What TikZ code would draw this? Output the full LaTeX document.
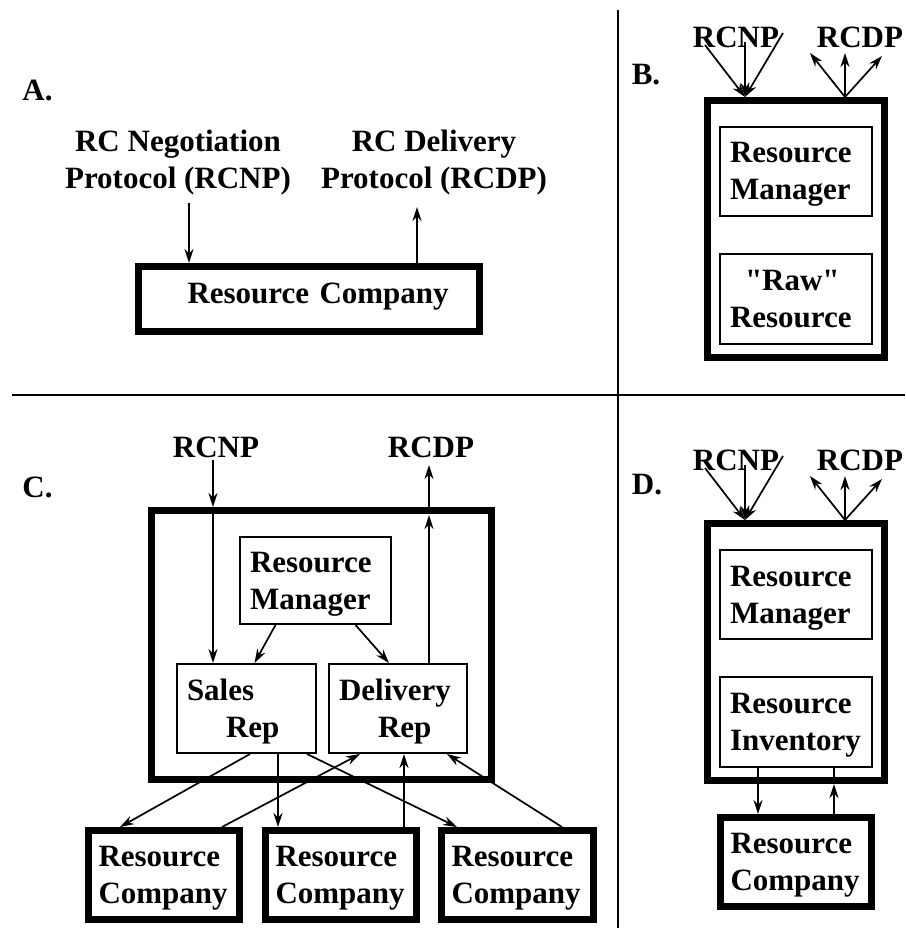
\documentclass[tikz,border=0pt]{standalone}
\usepackage{fontspec}
\setmainfont{Liberation Serif}
\usetikzlibrary{arrows.meta}

\tikzset{
  every node/.style={font=\bfseries\fontsize{31}{37}\selectfont},
  lbl/.style={inner sep=0pt},
  bigbox/.style={draw, line width=7pt, align=left, inner xsep=10pt, inner ysep=0pt,
    text height=20pt, text depth=37pt},
  smallbox/.style={bigbox, line width=2pt},
  wire/.style={line width=1.7pt},
  flow/.style={wire,->,>={Stealth[length=14pt,width=9pt]}},
  divider/.style={line width=2pt},
}

\begin{document}
\begin{tikzpicture}[x=1pt,y=-1pt]
      \useasboundingbox (0,0) rectangle (905,928);
      \draw[divider] (618,10) -- (618,928);
      \draw[divider] (12,395) -- (905,395);

      % A.
      \node[lbl] (labA) at (37.5,90) {A.};
      \node[lbl,align=center] (negA) at (178,163) {RC Negotiation\\Protocol (RCNP)};
      \node[lbl,align=center] (delA) at (434,163) {RC Delivery\\Protocol (RCDP)};
      \node[bigbox,text width=321pt,minimum height=65pt,text depth=12pt] (rcA) at (309,299) {\hspace*{39pt}Resource Company};
      \coordinate (negIn) at (189,203);
      \coordinate (delOut) at (417,207);
      \draw[flow] (negIn) -- (negIn |- rcA.north);
      \draw[flow] (delOut |- rcA.north) -- (delOut);

      % B.
      \node[lbl] (labB) at (646,75) {B.};
      \node[lbl] (cnB) at (736,37) {RCNP};
      \node[lbl] (cdB) at (860,37) {RCDP};
      \node[bigbox,minimum width=177pt,minimum height=257pt] (boxB) at (796,229) {};
      \node[smallbox,text width=132pt,minimum height=89pt] (rmB) at (796,171.5) {Resource\\Manager};
      \node[smallbox,text width=132pt,minimum height=90pt] (rawB) at (796,299) {\hspace*{15pt}\textquotedbl Raw\textquotedbl\\Resource};
      \coordinate (bn1) at (705,45);
      \coordinate (bn2) at (745,42);
      \coordinate (bn3) at (783,33);
      \coordinate (bd1) at (810,53);
      \coordinate (bd2) at (845,53);
      \coordinate (bd3) at (882,56);
      \foreach \c in {bn1,bn2,bn3}
        \draw[flow] (\c) -- ([xshift=-51pt]boxB.north);
      \foreach \c in {bd1,bd2,bd3}
        \draw[flow] ([xshift=49pt]boxB.north) -- (\c);

      % C.
      \node[lbl] (labC) at (37.5,487) {C.};
      \node[lbl] (cnC) at (216,447) {RCNP};
      \node[lbl] (cdC) at (431,447) {RCDP};
      \node[bigbox,minimum width=340pt,minimum height=269pt] (boxC) at (321.5,645) {};
      \node[smallbox,text width=131pt,minimum height=87pt] (rmC) at (315.5,580.5) {Resource\\Manager};
      \node[smallbox,text width=119pt,minimum height=89pt] (salesC) at (246.5,708.5) {Sales\\\hspace*{39pt}Rep};
      \node[smallbox,text width=118pt,minimum height=89pt] (delC) at (398,708.5) {Delivery\\\hspace*{39pt}Rep};
      \node[bigbox,text width=131pt,minimum height=89pt] (rc1) at (164,875) {Resource\\Company};
      \node[bigbox,text width=131pt,minimum height=89pt] (rc2) at (341,875) {Resource\\Company};
      \node[bigbox,text width=132pt,minimum height=89pt] (rc3) at (517.5,875) {Resource\\Company};
      \coordinate (cnIn) at (213,460);
      \coordinate (cdOut) at (429,465);
      \draw[flow] (cnIn) -- (cnIn |- boxC.north);
      \draw[flow] (cnIn |- boxC.north) -- (cnIn |- salesC.north);
      \draw[flow] (cdOut |- delC.north) -- ([yshift=-8pt]cdOut |- boxC.north);
      \draw[flow] (cdOut |- boxC.north) -- (cdOut);
      \draw[flow] ([xshift=-40pt]rmC.south) -- ([xshift=8pt]salesC.north);
      \draw[flow] ([xshift=40pt]rmC.south) -- ([xshift=-9pt]delC.north);
      \draw[flow] ([xshift=3.5pt]salesC.south) -- ([xshift=-44pt]rc1.north);
      \draw[flow] ([xshift=31.5pt]salesC.south) -- ([xshift=31.5pt]salesC.south |- rc2.north);
      \draw[flow] ([xshift=60.5pt]salesC.south) -- ([xshift=-60.5pt]rc3.north);
      \draw[flow] ([xshift=58pt]rc1.north) -- ([xshift=-38pt]delC.south);
      \draw[flow] ([xshift=63pt]rc2.north) -- ([xshift=63pt]rc2.north |- delC.south);
      \draw[flow] ([xshift=44.5pt]rc3.north) -- ([xshift=49pt]delC.south);

      % D.
      \node[lbl] (labD) at (647,485) {D.};
      \node[lbl] (cnD) at (736,460) {RCNP};
      \node[lbl] (cdD) at (860,460) {RCDP};
      \node[bigbox,minimum width=177pt,minimum height=257pt] (boxD) at (796,652) {};
      \node[smallbox,text width=132pt,minimum height=89pt] (rmD) at (796,594.5) {Resource\\Manager};
      \node[smallbox,text width=132pt,minimum height=90pt] (invD) at (796,722) {Resource\\Inventory};
      \node[bigbox,text width=131pt,minimum height=89pt] (rcD) at (796,862) {Resource\\Company};
      \coordinate (dn1) at (705,468);
      \coordinate (dn2) at (745,465);
      \coordinate (dn3) at (783,456);
      \coordinate (dd1) at (810,476);
      \coordinate (dd2) at (845,476);
      \coordinate (dd3) at (882,479);
      \foreach \c in {dn1,dn2,dn3}
        \draw[flow] (\c) -- ([xshift=-51pt]boxD.north);
      \foreach \c in {dd1,dd2,dd3}
        \draw[flow] ([xshift=49pt]boxD.north) -- (\c);
      \draw[flow] ([xshift=-38pt]invD.south) -- ([xshift=-38pt]rcD.north);
      \draw[flow] ([xshift=38pt]rcD.north) -- ([xshift=38pt]boxD.south);
      \draw[wire] ([xshift=38pt]boxD.south) -- ([xshift=38pt]invD.south);
    \end{tikzpicture}
\end{document}
